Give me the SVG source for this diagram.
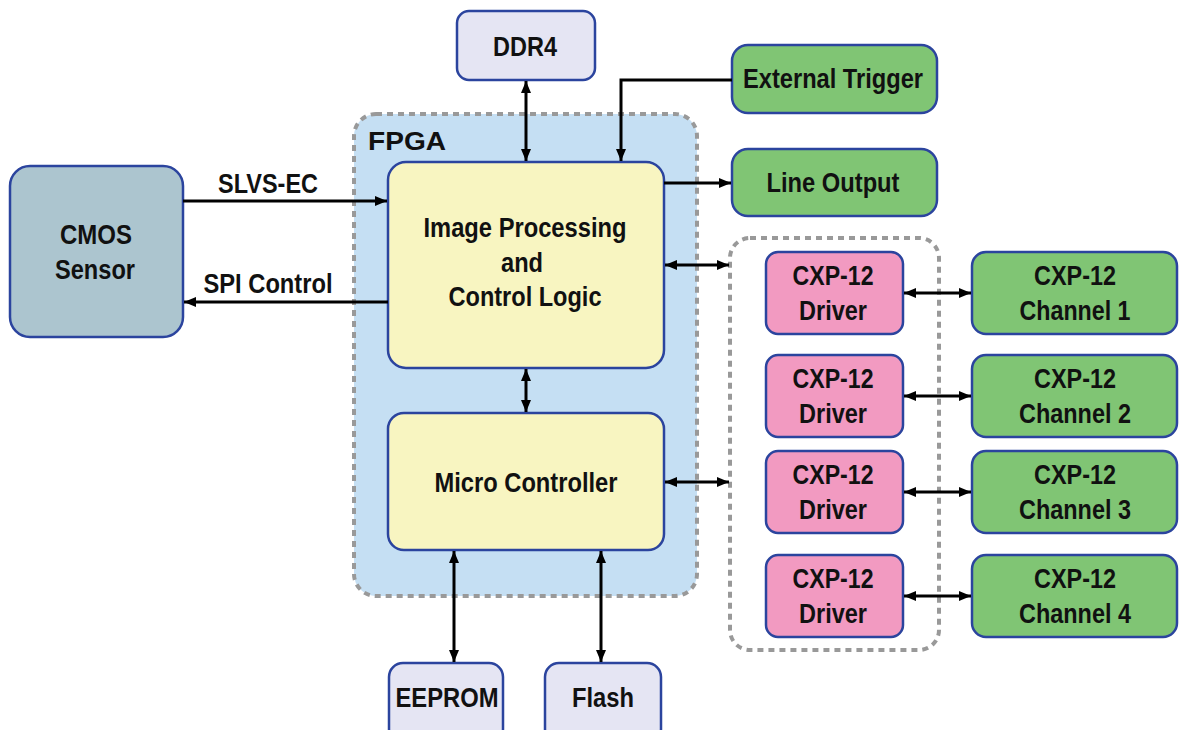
<svg xmlns="http://www.w3.org/2000/svg" width="1179" height="730" viewBox="0 0 1179 730">
<style>
.n{stroke:#2b449e;stroke-width:2.5}
.t{font-family:"Liberation Sans",Arial,sans-serif;font-weight:bold;font-size:27px;fill:#111;text-anchor:middle}
.c{fill:none;stroke:#000;stroke-width:3}
.grp{stroke:#999;stroke-width:4;stroke-dasharray:6 5}
</style>
<defs>
<marker id="ah" markerUnits="userSpaceOnUse" markerWidth="14" markerHeight="12" refX="12" refY="5" orient="auto-start-reverse">
<path d="M0,0 L12,5 L0,10 Z" fill="#000"/>
</marker>
</defs>
<rect x="0" y="0" width="1179" height="730" fill="#fff"/>
<g id="fpga">
<rect class="grp" x="354" y="114" width="343" height="482" rx="22" fill="#c5dff3"/>
<text class="t" x="368" y="150" style="text-anchor:start;font-size:26px" textLength="78" lengthAdjust="spacingAndGlyphs">FPGA</text>
</g>
<g id="cxp-group">
<rect class="grp" x="730" y="238" width="209" height="412" rx="20" fill="none"/>
</g>
<g id="ddr4">
<rect class="n" x="457" y="11" width="138" height="69" rx="12" fill="#e5e5f3"/>
<text class="t" x="525" y="56" textLength="64" lengthAdjust="spacingAndGlyphs">DDR4</text>
</g>
<g id="cmos">
<rect class="n" x="10" y="166" width="173" height="171" rx="20" fill="#acc5cf"/>
<text class="t" x="96" y="244" textLength="72" lengthAdjust="spacingAndGlyphs">CMOS</text>
<text class="t" x="95" y="279" textLength="80" lengthAdjust="spacingAndGlyphs">Sensor</text>
</g>
<g id="imgproc">
<rect class="n" x="388" y="162" width="276" height="206" rx="18" fill="#f8f5c1"/>
<text class="t" x="525" y="237" textLength="203" lengthAdjust="spacingAndGlyphs">Image Processing</text>
<text class="t" x="522" y="272" textLength="42" lengthAdjust="spacingAndGlyphs">and</text>
<text class="t" x="525" y="306" textLength="153" lengthAdjust="spacingAndGlyphs">Control Logic</text>
</g>
<g id="micro">
<rect class="n" x="388" y="413" width="276" height="137" rx="16" fill="#f8f5c1"/>
<text class="t" x="526" y="492" textLength="183" lengthAdjust="spacingAndGlyphs">Micro Controller</text>
</g>
<g id="exttrig">
<rect class="n" x="732" y="45" width="205" height="68" rx="16" fill="#80c574"/>
<text class="t" x="833" y="88" textLength="180" lengthAdjust="spacingAndGlyphs">External Trigger</text>
</g>
<g id="lineout">
<rect class="n" x="732" y="149" width="205" height="67" rx="16" fill="#80c574"/>
<text class="t" x="833" y="192" textLength="133" lengthAdjust="spacingAndGlyphs">Line Output</text>
</g>
<g id="drv1"><rect class="n" x="766" y="252" width="137" height="82" rx="12" fill="#f29ac1"/><text class="t" x="833" y="285" textLength="81" lengthAdjust="spacingAndGlyphs">CXP-12</text><text class="t" x="833" y="320" textLength="68" lengthAdjust="spacingAndGlyphs">Driver</text></g>
<g id="drv2"><rect class="n" x="766" y="355" width="137" height="82" rx="12" fill="#f29ac1"/><text class="t" x="833" y="388" textLength="81" lengthAdjust="spacingAndGlyphs">CXP-12</text><text class="t" x="833" y="423" textLength="68" lengthAdjust="spacingAndGlyphs">Driver</text></g>
<g id="drv3"><rect class="n" x="766" y="451" width="137" height="82" rx="12" fill="#f29ac1"/><text class="t" x="833" y="484" textLength="81" lengthAdjust="spacingAndGlyphs">CXP-12</text><text class="t" x="833" y="519" textLength="68" lengthAdjust="spacingAndGlyphs">Driver</text></g>
<g id="drv4"><rect class="n" x="766" y="555" width="137" height="82" rx="12" fill="#f29ac1"/><text class="t" x="833" y="588" textLength="81" lengthAdjust="spacingAndGlyphs">CXP-12</text><text class="t" x="833" y="623" textLength="68" lengthAdjust="spacingAndGlyphs">Driver</text></g>
<g id="ch1"><rect class="n" x="972" y="252" width="205" height="82" rx="14" fill="#80c574"/><text class="t" x="1075" y="285" textLength="82" lengthAdjust="spacingAndGlyphs">CXP-12</text><text class="t" x="1075" y="320" textLength="111" lengthAdjust="spacingAndGlyphs">Channel 1</text></g>
<g id="ch2"><rect class="n" x="972" y="355" width="205" height="82" rx="14" fill="#80c574"/><text class="t" x="1075" y="388" textLength="82" lengthAdjust="spacingAndGlyphs">CXP-12</text><text class="t" x="1075" y="423" textLength="112" lengthAdjust="spacingAndGlyphs">Channel 2</text></g>
<g id="ch3"><rect class="n" x="972" y="451" width="205" height="82" rx="14" fill="#80c574"/><text class="t" x="1075" y="484" textLength="82" lengthAdjust="spacingAndGlyphs">CXP-12</text><text class="t" x="1075" y="519" textLength="112" lengthAdjust="spacingAndGlyphs">Channel 3</text></g>
<g id="ch4"><rect class="n" x="972" y="555" width="205" height="82" rx="14" fill="#80c574"/><text class="t" x="1075" y="588" textLength="82" lengthAdjust="spacingAndGlyphs">CXP-12</text><text class="t" x="1075" y="623" textLength="112" lengthAdjust="spacingAndGlyphs">Channel 4</text></g>
<g id="eeprom"><rect class="n" x="389" y="663" width="114" height="80" rx="14" fill="#e5e5f3"/><text class="t" x="447" y="707" textLength="103" lengthAdjust="spacingAndGlyphs">EEPROM</text></g>
<g id="flash"><rect class="n" x="545" y="663" width="116" height="80" rx="14" fill="#e5e5f3"/><text class="t" x="603" y="707" textLength="62" lengthAdjust="spacingAndGlyphs">Flash</text></g>
<g id="connectors">
<path class="c" d="M526,81 V161" marker-start="url(#ah)" marker-end="url(#ah)"/>
<path class="c" d="M732,80 H621 V161" marker-end="url(#ah)"/>
<path class="c" d="M183,201 H387" marker-end="url(#ah)"/>
<path class="c" d="M388,302 H184" marker-end="url(#ah)"/>
<path class="c" d="M664,183 H731" marker-end="url(#ah)"/>
<path class="c" d="M665,265 H729" marker-start="url(#ah)" marker-end="url(#ah)"/>
<path class="c" d="M526,369 V412" marker-start="url(#ah)" marker-end="url(#ah)"/>
<path class="c" d="M665,482 H729" marker-start="url(#ah)" marker-end="url(#ah)"/>
<path class="c" d="M454,551 V662" marker-start="url(#ah)" marker-end="url(#ah)"/>
<path class="c" d="M601,551 V662" marker-start="url(#ah)" marker-end="url(#ah)"/>
<path class="c" d="M904,293 H971" marker-start="url(#ah)" marker-end="url(#ah)"/>
<path class="c" d="M904,396 H971" marker-start="url(#ah)" marker-end="url(#ah)"/>
<path class="c" d="M904,492 H971" marker-start="url(#ah)" marker-end="url(#ah)"/>
<path class="c" d="M904,596 H971" marker-start="url(#ah)" marker-end="url(#ah)"/>
</g>
<text class="t" x="268" y="193" textLength="100" lengthAdjust="spacingAndGlyphs">SLVS-EC</text>
<text class="t" x="268" y="293" textLength="129" lengthAdjust="spacingAndGlyphs">SPI Control</text>
</svg>
